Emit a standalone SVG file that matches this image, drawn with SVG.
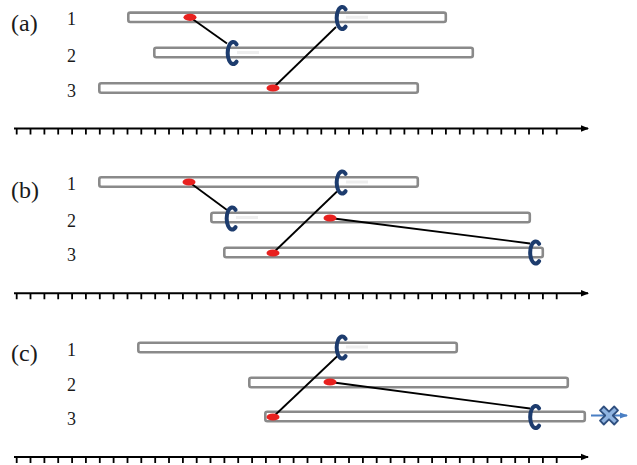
<svg xmlns="http://www.w3.org/2000/svg" width="637" height="465" viewBox="0 0 637 465">
<style>
.bar{fill:#fff;stroke:#8a8a8a;stroke-width:2.6}
.shade{fill:#e2e2e2;opacity:0.6}
.red{fill:#e8211f}
.clip{fill:none;stroke:#1d3c6e;stroke-width:4;stroke-linecap:round}
.link{stroke:#000;stroke-width:1.8;fill:none}
.axis{stroke:#000;stroke-width:2;fill:none}
.tick{stroke:#000;stroke-width:1.8}
.lab{font-family:"Liberation Serif","Times New Roman",serif;font-size:24px;fill:#1a1a1a}
.num{font-family:"Liberation Serif","Times New Roman",serif;font-size:18px;fill:#1a1a1a;text-anchor:middle}
</style>
<defs>
<path id="cring" d="M3.6,-8.6 A5.5 11 0 1 0 3.6,8.6" class="clip"/>
<ellipse id="dot" rx="6.5" ry="3.6" class="red"/>
<marker id="ah" markerWidth="8" markerHeight="8" refX="7" refY="4" orient="auto" markerUnits="userSpaceOnUse">
<path d="M0,0.8 L8,4 L0,7.2 Z" fill="#000"/>
</marker>
<marker id="ahb" markerWidth="8" markerHeight="8" refX="7" refY="4" orient="auto" markerUnits="userSpaceOnUse">
<path d="M0,1 L8,4 L0,7 Z" fill="#4a7fc4"/>
</marker>
<g id="ticks">
<path class="tick" d="M16.7,0v6M30.5,0v6M44.4,0v6M58.2,0v6M72.1,0v6M85.9,0v6M99.8,0v6M113.6,0v6M127.5,0v6M141.3,0v6M155.2,0v6M169,0v6M182.9,0v6M196.7,0v6M210.5,0v6M224.4,0v6M238.2,0v6M252.1,0v6M265.9,0v6M279.8,0v6M293.6,0v6M307.5,0v6M321.3,0v6M335.2,0v6M349,0v6M362.9,0v6M376.7,0v6M390.6,0v6M404.4,0v6M418.3,0v6M432.1,0v6M445.9,0v6M459.8,0v6M473.6,0v6M487.5,0v6M501.3,0v6M515.2,0v6M529,0v6M542.9,0v6M556.7,0v6"/>
<path class="axis" d="M14,0H588" marker-end="url(#ah)"/>
</g>
</defs>

<!-- Panel (a) -->
<g id="panel-a">
<text class="lab" x="11" y="31">(a)</text>
<text class="num" x="71.5" y="25">1</text>
<text class="num" x="71.5" y="61.5">2</text>
<text class="num" x="71.5" y="96.5">3</text>
<g id="a-strand1"><rect class="bar" x="128.3" y="12.6" width="317.5" height="9.4" rx="2"/></g>
<g id="a-strand2"><rect class="bar" x="154.3" y="47.8" width="318.5" height="9.4" rx="2"/></g>
<g id="a-strand3"><rect class="bar" x="99.3" y="83.3" width="318.5" height="9.4" rx="2"/></g>
<g id="a-connectors">
<line class="link" x1="190" y1="17.3" x2="227" y2="43.5"/>
<line class="link" x1="273" y1="88" x2="336" y2="27"/>
</g>
<g id="a-dot1"><use href="#dot" x="190" y="17.3"/></g>
<g id="a-dot3"><use href="#dot" x="273" y="88"/></g>
<g id="a-clip2"><rect class="shade" x="237" y="51" width="22" height="3"/><use href="#cring" x="233" y="53"/></g>
<g id="a-clip1"><rect class="shade" x="346" y="15.8" width="22" height="3"/><use href="#cring" x="342" y="18"/></g>
<g id="a-axis" transform="translate(0,128.5)"><use href="#ticks"/></g>
</g>

<!-- Panel (b) -->
<g id="panel-b">
<text class="lab" x="11" y="197.5">(b)</text>
<text class="num" x="71.5" y="190">1</text>
<text class="num" x="71.5" y="226.5">2</text>
<text class="num" x="71.5" y="261">3</text>
<g id="b-strand1"><rect class="bar" x="99.3" y="177.3" width="318.5" height="9.4" rx="2"/></g>
<g id="b-strand2"><rect class="bar" x="211.3" y="212.8" width="318.5" height="9.4" rx="2"/></g>
<g id="b-strand3"><rect class="bar" x="224.3" y="247.8" width="318.5" height="9.4" rx="2"/></g>
<g id="b-connectors">
<line class="link" x1="189" y1="182" x2="227" y2="210"/>
<line class="link" x1="273" y1="253" x2="337" y2="191.5"/>
<line class="link" x1="330" y1="218" x2="530" y2="243.5"/>
</g>
<g id="b-dot1"><use href="#dot" x="189" y="182"/></g>
<g id="b-dot3"><use href="#dot" x="273" y="253"/></g>
<g id="b-dot2"><use href="#dot" x="330" y="218"/></g>
<g id="b-clip2"><rect class="shade" x="236" y="216" width="22" height="3"/><use href="#cring" x="232" y="218.5"/></g>
<g id="b-clip1"><rect class="shade" x="346" y="180.5" width="22" height="3"/><use href="#cring" x="342" y="182.5"/></g>
<g id="b-clip3"><use href="#cring" x="535.5" y="252.5"/></g>
<g id="b-axis" transform="translate(0,293.3)"><use href="#ticks"/></g>
</g>

<!-- Panel (c) -->
<g id="panel-c">
<text class="lab" x="11" y="361">(c)</text>
<text class="num" x="71.5" y="356">1</text>
<text class="num" x="71.5" y="390.5">2</text>
<text class="num" x="71.5" y="425">3</text>
<g id="c-strand1"><rect class="bar" x="138.3" y="342.8" width="318.5" height="9.4" rx="2"/></g>
<g id="c-strand2"><rect class="bar" x="249.3" y="377.8" width="318.5" height="9.4" rx="2"/></g>
<g id="c-strand3"><rect class="bar" x="265.3" y="411.8" width="319.5" height="9.4" rx="2"/></g>
<g id="c-connectors">
<line class="link" x1="273" y1="417" x2="338" y2="355.5"/>
<line class="link" x1="330" y1="382" x2="530" y2="408.5"/>
<line x1="591" y1="415.5" x2="627" y2="415.5" stroke="#4a7fc4" stroke-width="2" marker-end="url(#ahb)"/>
</g>
<g id="c-dot3"><use href="#dot" x="273" y="417"/></g>
<g id="c-dot2"><use href="#dot" x="330" y="382"/></g>
<g id="c-clip1"><rect class="shade" x="346" y="345.5" width="22" height="3"/><use href="#cring" x="342" y="347.5"/></g>
<g id="c-clip3"><use href="#cring" x="535.5" y="417"/></g>
<g id="c-stop">
<path d="M0,-3.8 L5.2,-9 L9,-5.2 L3.8,0 L9,5.2 L5.2,9 L0,3.8 L-5.2,9 L-9,5.2 L-3.8,0 L-9,-5.2 L-5.2,-9 Z" transform="translate(609,415.5)" fill="#8fb3e0" stroke="#2f4f7f" stroke-width="1.8" stroke-linejoin="round"/>
</g>
<g id="c-axis" transform="translate(0,457)"><use href="#ticks"/></g>
</g>
</svg>
